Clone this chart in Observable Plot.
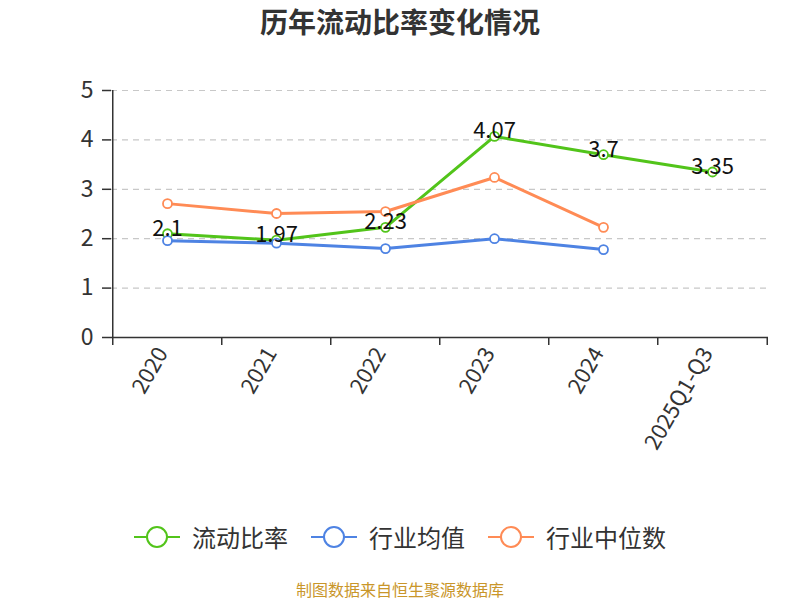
<!DOCTYPE html>
<html><head><meta charset="utf-8">
<script src="https://cdn.jsdelivr.net/npm/d3@7"></script>
<script src="https://cdn.jsdelivr.net/npm/@observablehq/plot@0.6"></script>
<style>
body{margin:0;background:#fff;font-family:"Noto Sans CJK SC","Noto Sans",sans-serif;overflow:hidden;}
#wrap{position:relative;width:800px;height:600px;}
#title{position:absolute;top:2px;left:0;width:800px;text-align:center;font-size:28px;font-weight:bold;color:#333;line-height:38px;}
#chart{position:absolute;top:50px;left:0;}
#legend{position:absolute;top:520px;left:0;width:800px;display:flex;justify-content:center;gap:23px;font-size:24px;line-height:34px;color:#333;}
.item{display:flex;align-items:center;gap:12px;}
#caption{position:absolute;top:580px;left:0;width:800px;text-align:center;font-size:16px;line-height:18px;color:#c9962a;}
</style></head>
<body><div id="wrap">
<div id="title">历年流动比率变化情况</div>
<div id="chart"></div>
<div id="legend"></div>
<div id="caption">制图数据来自恒生聚源数据库</div>
</div>
<script>
const categories = ["2020","2021","2022","2023","2024","2025Q1-Q3"];
const ratio = [2.1, 1.97, 2.23, 4.07, 3.7, 3.35];
const industryMean = [1.96, 1.91, 1.80, 2.00, 1.78];
const industryMedian = [2.71, 2.51, 2.55, 3.24, 2.23];
const seriesNames = ["流动比率","行业均值","行业中位数"];
const colors = ["#52c41a","#4e83e3","#ff8b55"];
const yTicks = [0,1,2,3,4,5];

const rows = [];
[ratio, industryMean, industryMedian].forEach((vals, s) => {
  vals.forEach((v, i) => rows.push({series: seriesNames[s], cat: categories[i], value: v}));
});
const ratioRows = rows.filter(d => d.series === seriesNames[0]);

const W = 800, H = 430, ml = 111, mr = 32, mt = 40, mb = 143;
const step = (W - ml - mr) / categories.length;

const chart = Plot.plot({
  width: W, height: H,
  marginLeft: ml, marginRight: mr, marginTop: mt, marginBottom: mb,
  style: {fontFamily: '"Noto Sans CJK SC","Noto Sans",sans-serif', background: "#fff"},
  x: {type: "point", domain: categories, padding: 0.5},
  y: {domain: [0, 5]},
  color: {domain: seriesNames, range: colors},
  marks: [
    Plot.ruleY(yTicks.filter(t => t > 0), {stroke: "#c8c8c8", strokeWidth: 1.2, strokeDasharray: "6,5"}),
    Plot.axisY({ticks: yTicks, tickFormat: d3.format("d"), tickSize: 9, tickPadding: 9, fontSize: 23, color: "#333", stroke: "#333", strokeWidth: 1.5, label: null}),
    Plot.axisX({tickSize: 0, tickPadding: 12, tickRotate: -60, fontSize: 22, color: "#333", dx: -5, label: null}),
    Plot.ruleX(categories, {x: d => d, y1: 0, y2: -0.16, dx: -step/2, stroke: "#333", strokeWidth: 1.5}),
    Plot.ruleX([categories[categories.length-1]], {x: d => d, y1: 0, y2: -0.16, dx: step/2, stroke: "#333", strokeWidth: 1.5}),
    Plot.ruleX([categories[0]], {x: d => d, y1: 0, y2: 5, dx: -step/2, stroke: "#333", strokeWidth: 1.5}),
    Plot.ruleY([0], {stroke: "#333", strokeWidth: 1.5}),
    Plot.lineY(rows, {x: "cat", y: "value", z: "series", stroke: "series", strokeWidth: 3}),
    Plot.dot(rows, {x: "cat", y: "value", stroke: "series", fill: "#fff", r: 4.5, strokeWidth: 1.8}),
    Plot.text(ratioRows, {x: "cat", y: "value", text: d => String(d.value), dy: -5, fontSize: 22, fill: "#111"})
  ]
});
document.getElementById("chart").appendChild(chart);

const legend = document.getElementById("legend");
seriesNames.forEach((n, i) => {
  const it = document.createElement("div");
  it.className = "item";
  it.innerHTML = `<svg width="46" height="24"><line x1="0" y1="12" x2="46" y2="12" stroke="${colors[i]}" stroke-width="2"/><circle cx="23" cy="12" r="10" fill="#fff" stroke="${colors[i]}" stroke-width="2"/></svg><span>${n}</span>`;
  legend.appendChild(it);
});
</script>
</body></html>
